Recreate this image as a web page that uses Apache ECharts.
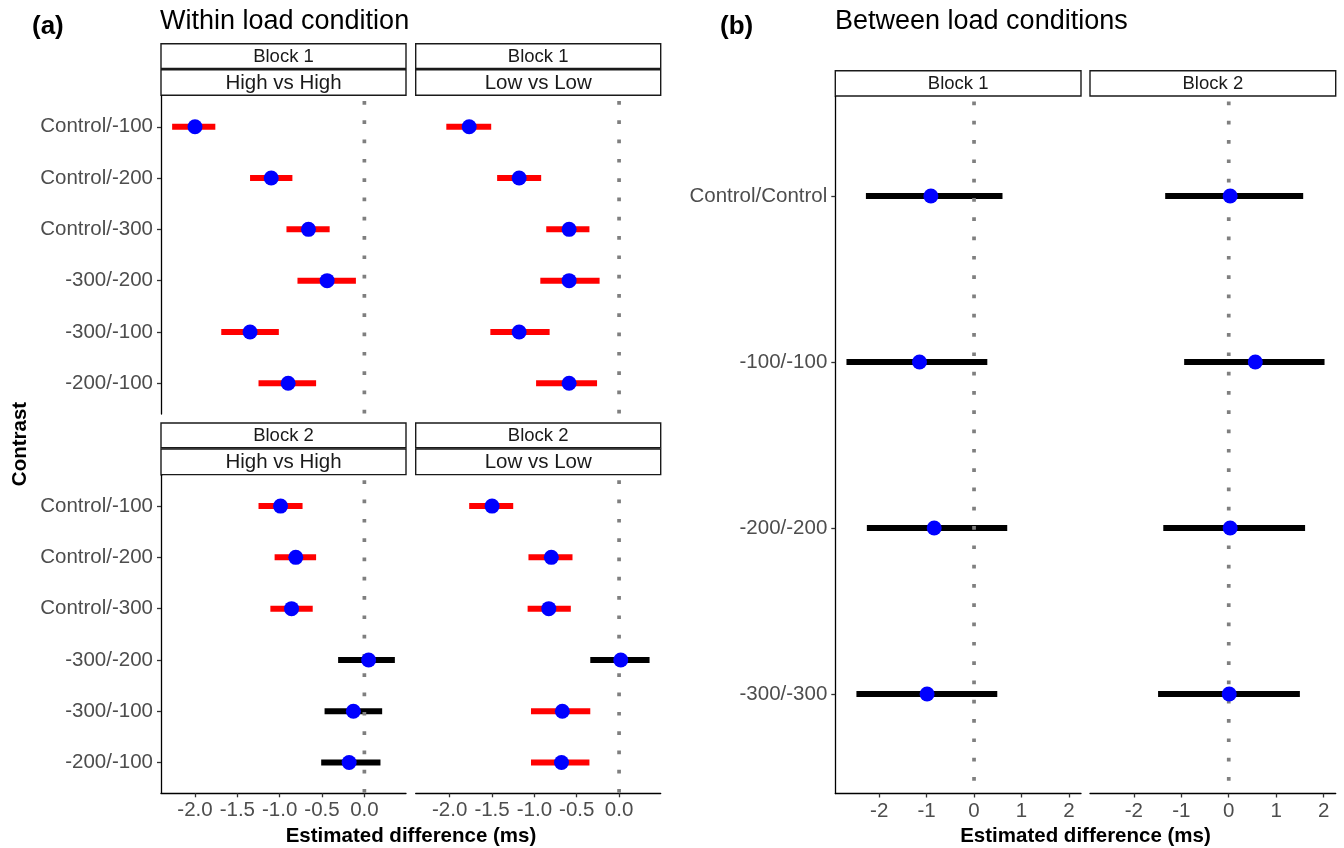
<!DOCTYPE html>
<html>
<head>
<meta charset="utf-8">
<script src="https://cdn.jsdelivr.net/npm/echarts@6/dist/echarts.min.js"></script>
<style>
  html, body { margin: 0; padding: 0; background: #ffffff; }
  #chart { width: 1344px; height: 848px; }
</style>
</head>
<body>
<div id="chart"></div>
<script>
// Contrast labels
const contrastsWithin = ['Control/-100', 'Control/-200', 'Control/-300', '-300/-200', '-300/-100', '-200/-100'];
const contrastsBetween = ['Control/Control', '-100/-100', '-200/-200', '-300/-300'];

// Within load condition: estimate, lower and upper CI (ms)
const b1HighEst = [-2.00, -1.10, -0.66, -0.44, -1.35, -0.90];
const b1HighLo  = [-2.27, -1.35, -0.92, -0.79, -1.69, -1.25];
const b1HighHi  = [-1.76, -0.85, -0.41, -0.10, -1.01, -0.57];

const b1LowEst = [-1.77, -1.18, -0.59, -0.59, -1.18, -0.59];
const b1LowLo  = [-2.04, -1.44, -0.86, -0.93, -1.52, -0.98];
const b1LowHi  = [-1.51, -0.92, -0.35, -0.23, -0.82, -0.26];

const b2HighEst = [-0.99, -0.81, -0.86, 0.05, -0.13, -0.18];
const b2HighLo  = [-1.25, -1.06, -1.11, -0.31, -0.47, -0.51];
const b2HighHi  = [-0.73, -0.57, -0.61, 0.36, 0.21, 0.19];

const b2LowEst = [-1.50, -0.80, -0.83, 0.02, -0.67, -0.68];
const b2LowLo  = [-1.77, -1.07, -1.08, -0.34, -1.04, -1.04];
const b2LowHi  = [-1.25, -0.55, -0.57, 0.36, -0.34, -0.35];

// Between load conditions
const bw1Est = [-0.91, -1.15, -0.84, -0.99];
const bw1Lo  = [-2.28, -2.69, -2.26, -2.48];
const bw1Hi  = [0.60, 0.28, 0.70, 0.49];

const bw2Est = [0.03, 0.56, 0.03, 0.01];
const bw2Lo  = [-1.34, -0.94, -1.38, -1.49];
const bw2Hi  = [1.57, 2.02, 1.61, 1.50];

// Tick values
const ticksWithin = [-2.0, -1.5, -1.0, -0.5, 0.0];
const ticksBetween = [-2, -1, 0, 1, 2];

// Reference line position
const refLine = [0];

const FONT = '"Liberation Sans", Arial, Helvetica, sans-serif';
const TICK_COLOR = '#4d4d4d';

// Shared x range per figure half, padded by 5% like a default continuous scale
function paddedRange(los, his) {
  const lo = Math.min(...los.flat());
  const hi = Math.max(...his.flat());
  const pad = (hi - lo) * 0.05;
  return [lo - pad, hi + pad];
}
const rangeWithin = paddedRange([b1HighLo, b1LowLo, b2HighLo, b2LowLo], [b1HighHi, b1LowHi, b2HighHi, b2LowHi]);
const rangeBetween = paddedRange([bw1Lo, bw2Lo], [bw1Hi, bw2Hi]);

const panels = [
  { box: [161, 96, 245, 318], cats: contrastsWithin, est: b1HighEst, lo: b1HighLo, hi: b1HighHi,
    range: rangeWithin, ticks: ticksWithin, fmt: v => v.toFixed(1), showX: false, showY: true, strips: ['Block 1', 'High vs High'] },
  { box: [415.7, 96, 245, 318], cats: contrastsWithin, est: b1LowEst, lo: b1LowLo, hi: b1LowHi,
    range: rangeWithin, ticks: ticksWithin, fmt: v => v.toFixed(1), showX: false, showY: false, strips: ['Block 1', 'Low vs Low'] },
  { box: [161, 475.3, 245, 318], cats: contrastsWithin, est: b2HighEst, lo: b2HighLo, hi: b2HighHi,
    range: rangeWithin, ticks: ticksWithin, fmt: v => v.toFixed(1), showX: true, showY: true, strips: ['Block 2', 'High vs High'] },
  { box: [415.7, 475.3, 245, 318], cats: contrastsWithin, est: b2LowEst, lo: b2LowLo, hi: b2LowHi,
    range: rangeWithin, ticks: ticksWithin, fmt: v => v.toFixed(1), showX: true, showY: false, strips: ['Block 2', 'Low vs Low'] },
  { box: [835.3, 96.5, 245.7, 697], cats: contrastsBetween, est: bw1Est, lo: bw1Lo, hi: bw1Hi,
    range: rangeBetween, ticks: ticksBetween, fmt: v => String(v), showX: true, showY: true, strips: ['Block 1'] },
  { box: [1090, 96.5, 245.7, 697], cats: contrastsBetween, est: bw2Est, lo: bw2Lo, hi: bw2Hi,
    range: rangeBetween, ticks: ticksBetween, fmt: v => String(v), showX: true, showY: false, strips: ['Block 2'] }
];

const grids = [], xAxes = [], yAxes = [], series = [], graphics = [];

panels.forEach((p, i) => {
  const [left, top, width, height] = p.box;
  const n = p.cats.length;
  const idx = p.cats.map((_, k) => k + 1);

  grids.push({ left, top, width, height });

  xAxes.push({
    gridIndex: i, type: 'value', min: p.range[0], max: p.range[1],
    axisLine: { show: p.showX, onZero: false, lineStyle: { color: '#000000', width: 1.3 } },
    axisTick: { show: p.showX, customValues: p.ticks, length: 4, lineStyle: { color: '#333333', width: 1.3 } },
    axisLabel: { show: p.showX, customValues: p.ticks, formatter: p.fmt, margin: 7,
      color: TICK_COLOR, fontSize: 20.5, fontFamily: FONT },
    splitLine: { show: false }
  });

  yAxes.push({
    gridIndex: i, type: 'value', inverse: true, min: 0.4, max: n + 0.6,
    axisLine: { show: p.showY, onZero: false, lineStyle: { color: '#000000', width: 1.3 } },
    axisTick: { show: p.showY, customValues: idx, length: 4, lineStyle: { color: '#333333', width: 1.3 } },
    axisLabel: { show: p.showY, customValues: idx, formatter: v => p.cats[Math.round(v) - 1] || '',
      margin: 8, padding: [4, 0, 0, 0], color: TICK_COLOR, fontSize: 20.5, fontFamily: FONT },
    splitLine: { show: false }
  });

  // Confidence interval bars: red when the interval excludes zero
  series.push({
    type: 'custom', xAxisIndex: i, yAxisIndex: i, z: 2, silent: true,
    encode: { x: [0, 1], y: 2 },
    data: p.lo.map((lo, k) => [lo, p.hi[k], k + 1]),
    renderItem: (params, api) => {
      const lo = api.value(0), hi = api.value(1), yi = api.value(2);
      const a = api.coord([lo, yi]);
      const b = api.coord([hi, yi]);
      const h = 6;
      return {
        type: 'rect',
        shape: { x: a[0], y: a[1] - h / 2, width: b[0] - a[0], height: h },
        style: { fill: (hi < 0 || lo > 0) ? '#ff0000' : '#000000' }
      };
    }
  });

  // Dotted zero reference line
  series.push({
    type: 'custom', xAxisIndex: i, yAxisIndex: i, z: 3, silent: true,
    encode: { x: 0 },
    data: refLine.map(v => [v]),
    renderItem: (params, api) => {
      const cs = params.coordSys;
      const x = api.coord([api.value(0), 1])[0];
      return {
        type: 'line',
        shape: { x1: x, y1: cs.y + 5, x2: x, y2: cs.y + cs.height },
        style: { stroke: '#7f7f7f', lineWidth: 3.7, lineDash: [3.7, 15.6], lineCap: 'butt' }
      };
    }
  });

  // Point estimates
  series.push({
    type: 'scatter', xAxisIndex: i, yAxisIndex: i, z: 4, silent: true,
    symbol: 'circle', symbolSize: 15,
    itemStyle: { color: '#0000ff', opacity: 1 },
    data: p.est.map((v, k) => [v, k + 1])
  });

  // Facet strips
  const stripTexts = p.strips;
  const stripSizes = stripTexts.length === 2 ? [18.5, 20.5] : [18.5];
  stripTexts.forEach((t, s) => {
    let y, h;
    if (stripTexts.length === 2) {
      y = s === 0 ? top - 52.3 : top - 26.3;
      h = s === 0 ? 24.7 : 25.6;
    } else {
      y = top - 25.8; h = 25.3;
    }
    graphics.push({
      type: 'rect', silent: true,
      shape: { x: left, y: y, width: width, height: h },
      style: { fill: '#ffffff', stroke: '#1a1a1a', lineWidth: 1.4 }
    });
    graphics.push({
      type: 'text', silent: true,
      style: { text: t, x: left + width / 2, y: y + h / 2 + 1,
        font: `${stripSizes[s]}px ${FONT}`, fill: '#1a1a1a',
        align: 'center', verticalAlign: 'middle', textAlign: 'center', textVerticalAlign: 'middle' }
    });
  });
});

// Figure labels and titles
function addText(text, x, y, size, weight, align, extra) {
  graphics.push(Object.assign({
    type: 'text', silent: true,
    style: { text, x, y, font: `${weight} ${size}px ${FONT}`, fill: '#000000',
      align, verticalAlign: 'middle', textAlign: align, textVerticalAlign: 'middle' }
  }, extra || {}));
}
addText('(a)', 32, 27, 26, 'bold', 'left');
addText('Within load condition', 160, 22, 27, 'normal', 'left');
addText('(b)', 720, 27, 26, 'bold', 'left');
addText('Between load conditions', 835, 22, 27, 'normal', 'left');
addText('Estimated difference (ms)', 411, 836, 20.5, 'bold', 'center');
addText('Estimated difference (ms)', 1085.5, 836, 20.5, 'bold', 'center');
graphics.push({
  type: 'text', silent: true, x: 20, y: 444, rotation: Math.PI / 2,
  style: { text: 'Contrast', x: 0, y: 0, font: `bold 20.5px ${FONT}`, fill: '#000000',
    align: 'center', verticalAlign: 'middle', textAlign: 'center', textVerticalAlign: 'middle' }
});

const chart = echarts.init(document.getElementById('chart'), null, { renderer: 'canvas' });
chart.setOption({
  animation: false,
  backgroundColor: '#ffffff',
  grid: grids,
  xAxis: xAxes,
  yAxis: yAxes,
  series: series,
  graphic: { elements: graphics }
});
</script>
</body>
</html>
